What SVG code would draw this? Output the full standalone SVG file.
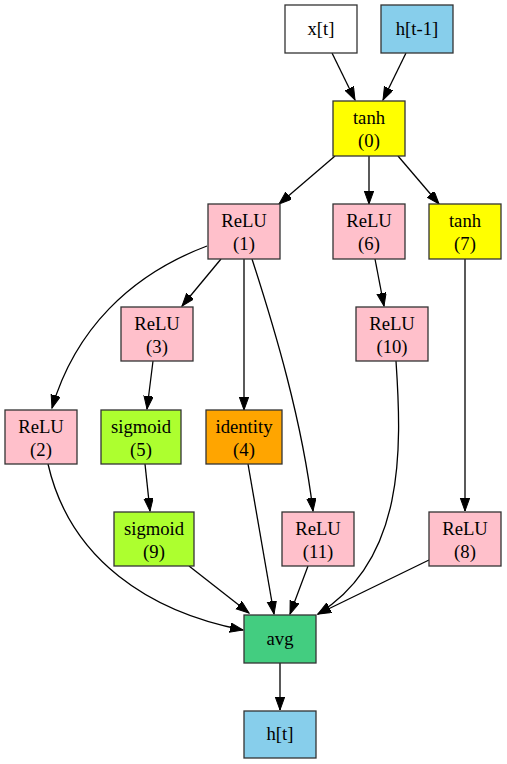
<svg xmlns="http://www.w3.org/2000/svg" width="507" height="764" viewBox="0 0 507 764">
  <defs>
    <marker id="arrow" markerUnits="userSpaceOnUse" markerWidth="15" markerHeight="11" refX="13" refY="4.7" orient="auto">
      <path d="M0,0 L13,4.7 L0,9.4 z" fill="#000" stroke="#000" stroke-width="1"/>
    </marker>
    <style>
      .node rect { stroke: #333; stroke-width: 1.3; }
      .node text { font-family: "Liberation Serif", "Times New Roman", serif; font-size: 18.67px; text-anchor: middle; fill: #000; }
      .edges path { fill: none; stroke: #000; stroke-width: 1.3; marker-end: url(#arrow); }
      .white { fill: #ffffff; }
      .sky { fill: #87ceeb; }
      .yellow { fill: #ffff00; }
      .pink { fill: #ffc0cb; }
      .lime { fill: #adff2f; }
      .orange { fill: #ffa500; }
      .sea { fill: #43cd80; }
    </style>
  </defs>
  <rect width="507" height="764" fill="#ffffff"/>

  <g class="edges" id="edges">
    <path d="M332,53 L355,100"/>
    <path d="M406,53 L383,100"/>
    <path d="M335,156 L279,204"/>
    <path d="M369,156 L369,204"/>
    <path d="M398,156 L439,204"/>
    <path d="M221,259 L182,306"/>
    <path d="M244,259 L244,410"/>
    <path d="M252,259 C275,330 302,420 313,511"/>
    <path d="M207,246 C130,275 75,330 52,408"/>
    <path d="M375,259 L384,306"/>
    <path d="M465,259 L465,511"/>
    <path d="M153,361 L147,409"/>
    <path d="M145,464 L150,511"/>
    <path d="M396,361 C402,450 405,560 318,614"/>
    <path d="M48,464 C70,560 150,612 243,630"/>
    <path d="M189,566 L249,613"/>
    <path d="M248,464 L274,614"/>
    <path d="M308,566 L290,614"/>
    <path d="M429,560 L318,614"/>
    <path d="M280,663 L280,710"/>
  </g>

  <g class="node" id="x_t">
    <rect class="white" x="285" y="5" width="72" height="48"/>
    <text x="321" y="35">x[t]</text>
  </g>
  <g class="node" id="h_prev">
    <rect class="sky" x="381" y="5" width="72" height="48"/>
    <text x="417" y="35">h[t-1]</text>
  </g>
  <g class="node" id="n0">
    <rect class="yellow" x="333" y="101" width="72" height="55"/>
    <text x="369" y="124">tanh</text>
    <text x="369" y="146.5">(0)</text>
  </g>
  <g class="node" id="n1">
    <rect class="pink" x="208" y="204" width="72" height="55"/>
    <text x="244" y="227">ReLU</text>
    <text x="244" y="249.5">(1)</text>
  </g>
  <g class="node" id="n6">
    <rect class="pink" x="333" y="204" width="72" height="55"/>
    <text x="369" y="227">ReLU</text>
    <text x="369" y="249.5">(6)</text>
  </g>
  <g class="node" id="n7">
    <rect class="yellow" x="429" y="204" width="72" height="55"/>
    <text x="465" y="227">tanh</text>
    <text x="465" y="249.5">(7)</text>
  </g>
  <g class="node" id="n3">
    <rect class="pink" x="121" y="307" width="72" height="54"/>
    <text x="157" y="330">ReLU</text>
    <text x="157" y="352.5">(3)</text>
  </g>
  <g class="node" id="n10">
    <rect class="pink" x="356" y="307" width="72" height="54"/>
    <text x="392" y="330">ReLU</text>
    <text x="392" y="352.5">(10)</text>
  </g>
  <g class="node" id="n2">
    <rect class="pink" x="5" y="410" width="72" height="54"/>
    <text x="41" y="433">ReLU</text>
    <text x="41" y="455.5">(2)</text>
  </g>
  <g class="node" id="n5">
    <rect class="lime" x="101" y="410" width="80" height="54"/>
    <text x="141" y="433">sigmoid</text>
    <text x="141" y="455.5">(5)</text>
  </g>
  <g class="node" id="n4">
    <rect class="orange" x="206" y="410" width="76" height="54"/>
    <text x="244" y="433">identity</text>
    <text x="244" y="455.5">(4)</text>
  </g>
  <g class="node" id="n9">
    <rect class="lime" x="114" y="512" width="80" height="54"/>
    <text x="154" y="535">sigmoid</text>
    <text x="154" y="557.5">(9)</text>
  </g>
  <g class="node" id="n11">
    <rect class="pink" x="282" y="512" width="72" height="54"/>
    <text x="318" y="535">ReLU</text>
    <text x="318" y="557.5">(11)</text>
  </g>
  <g class="node" id="n8">
    <rect class="pink" x="429" y="512" width="72" height="54"/>
    <text x="465" y="535">ReLU</text>
    <text x="465" y="557.5">(8)</text>
  </g>
  <g class="node" id="avg">
    <rect class="sea" x="244" y="615" width="72" height="48"/>
    <text x="280" y="645">avg</text>
  </g>
  <g class="node" id="h_t">
    <rect class="sky" x="244" y="711" width="72" height="47"/>
    <text x="280" y="740">h[t]</text>
  </g>
</svg>
